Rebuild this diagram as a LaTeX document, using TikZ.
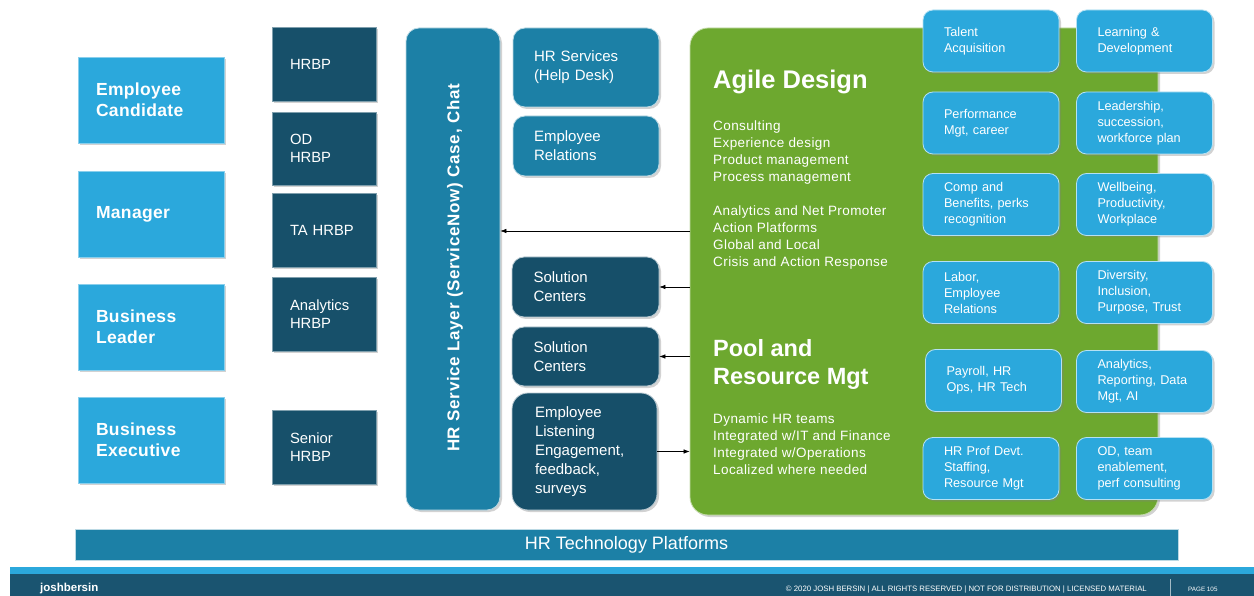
\documentclass[tikz,border=0pt]{standalone}
\usepackage{fontspec}
\setmainfont{Liberation Sans}
\usetikzlibrary{shadows,arrows.meta}
\definecolor{lblue}{HTML}{2BA8DC}
\definecolor{dteal}{HTML}{17506A}
\definecolor{mteal}{HTML}{1C80A6}
\definecolor{dkbox}{HTML}{164F69}
\definecolor{agreen}{HTML}{6DA82F}
\definecolor{footdark}{HTML}{1A5470}
\tikzset{
  shad/.style={drop shadow={opacity=0.35,shadow xshift=2pt,shadow yshift=-2pt}},
  rolebox/.style={rectangle, fill=lblue, draw=lblue!55!white, line width=0.8pt,
    minimum width=146pt, minimum height=86pt, text width=110pt, inner xsep=18pt, inner ysep=0pt,
    align=left, text=white, font=\bfseries\fontsize{17.5}{21}\selectfont\addfontfeatures{LetterSpace=2}, shad},
  hrbpbox/.style={rectangle, fill=dteal, draw=dteal!55!white, line width=0.8pt,
    minimum width=104pt, minimum height=74pt, text width=68pt, inner xsep=18pt, inner ysep=0pt,
    align=left, text=white, font=\fontsize{14.8}{18}\selectfont, shad},
  midbox/.style={rectangle, rounded corners=12pt, draw=white!70!mteal, line width=0.8pt,
    minimum width=146pt, text width=104pt, inner xsep=21pt, inner ysep=0pt,
    align=left, text=white, font=\fontsize{15}{19}\selectfont, shad},
  tilebox/.style={rectangle, rounded corners=10pt, fill=lblue, draw=white!65!lblue, line width=0.8pt,
    minimum width=136pt, minimum height=62pt, text width=94pt, inner xsep=21pt, inner ysep=0pt,
    align=left, text=white, font=\fontsize{12.7}{16}\selectfont, shad},
  gtext/.style={anchor=north west, inner sep=0pt, align=left, text=white, font=\fontsize{13.5}{17}\selectfont\addfontfeatures{LetterSpace=3}},
  ghead/.style={anchor=north west, inner sep=0pt, align=left, text=white, font=\bfseries\fontsize{23.5}{28}\selectfont},
  arr/.style={draw=black, line width=0.6pt, -{Latex[length=6pt,width=4.5pt]}},
}
\begin{document}
\begin{tikzpicture}[x=1pt,y=-1pt]
\useasboundingbox (0,0) rectangle (1254,596);
\fill[white] (0,0) rectangle (1254,596);

% role boxes
\node[rolebox] (emp) at (151,100) {Employee\\Candidate};
\node[rolebox] (mgr) at (151,214) {Manager};
\node[rolebox] (bl) at (151,327) {Business\\Leader};
\node[rolebox] (be) at (151,440) {Business\\Executive};

% HRBP boxes
\node[hrbpbox] (h1) at (324,64) {HRBP};
\node[hrbpbox, minimum height=73pt] (h2) at (324,148.5) {OD\\HRBP};
\node[hrbpbox] (h3) at (324,230) {TA HRBP};
\node[hrbpbox] (h4) at (324,314) {Analytics\\HRBP};
\node[hrbpbox] (h5) at (324,447) {Senior\\HRBP};

% service layer
\node[rectangle, rounded corners=13pt, fill=mteal, draw=white!70!mteal, line width=0.8pt,
  minimum width=94pt, minimum height=482pt, inner sep=0pt, shad] (svc) at (453,269) {};
\node[rotate=90, text=white, font=\bfseries\fontsize{17}{20}\selectfont\addfontfeatures{LetterSpace=4}, inner sep=0pt] (svctext) at (455,268) {HR Service Layer (ServiceNow) Case, Chat};

% middle column
\node[midbox, fill=mteal, minimum height=79pt] (hrs) at (586,67.5) {HR Services\\(Help Desk)};
\node[midbox, fill=mteal, minimum height=60pt] (er) at (586,146) {Employee\\Relations};
\node[midbox, fill=dkbox, draw=white!70!dkbox, minimum width=147pt, minimum height=60pt] (sc1) at (585.5,287) {Solution\\Centers};
\node[midbox, fill=dkbox, draw=white!70!dkbox, minimum width=147pt, minimum height=59pt] (sc2) at (585.5,356.5) {Solution\\Centers};
\node[midbox, fill=dkbox, draw=white!70!dkbox, minimum width=145pt, minimum height=117pt, rounded corners=16pt, inner xsep=23pt, text width=99pt] (lis) at (584.5,451.5) {Employee\\Listening\\Engagement,\\feedback,\\surveys};

% green area
\node[rectangle, rounded corners=18pt, fill=agreen, draw=white!60!agreen, line width=0.8pt,
  minimum width=468pt, minimum height=487pt, inner sep=0pt, shad] (green) at (924,271.5) {};

\node[anchor=north west, inner sep=0pt, text=white, font=\bfseries\fontsize{25.5}{28}\selectfont] (agile) at (713,70) {Agile Design};
\node[gtext] (alist) at (713,121) {Consulting\\Experience design\\Product management\\Process management\\[17pt]Analytics and Net Promoter\\Action Platforms\\Global and Local\\Crisis and Action Response};
\node[ghead] (pool) at (713,339) {Pool and\\Resource Mgt};
\node[gtext] (plist) at (713,414) {Dynamic HR teams\\Integrated w/IT and Finance\\Integrated w/Operations\\Localized where needed};

% tiles
\node[tilebox] (t11) at (991,41) {Talent\\Acquisition};
\node[tilebox] (t12) at (1144.5,41) {Learning \&\\Development};
\node[tilebox] (t21) at (991,123) {Performance\\Mgt, career};
\node[tilebox] (t22) at (1144.5,123) {Leadership,\\succession,\\workforce plan};
\node[tilebox] (t31) at (991,204.5) {Comp and\\Benefits, perks\\recognition};
\node[tilebox] (t32) at (1144.5,204.5) {Wellbeing,\\Productivity,\\Workplace};
\node[tilebox] (t41) at (991,292.5) {Labor,\\Employee\\Relations};
\node[tilebox] (t42) at (1144.5,292.5) {Diversity,\\Inclusion,\\Purpose, Trust};
\node[tilebox] (t51) at (993.5,380.5) {Payroll, HR\\Ops, HR Tech};
\node[tilebox] (t52) at (1144.5,381.5) {Analytics,\\Reporting, Data\\Mgt, AI};
\node[tilebox] (t61) at (991,468.5) {HR Prof Devt.\\Staffing,\\Resource Mgt};
\node[tilebox] (t62) at (1144.5,468.5) {OD, team\\enablement,\\perf consulting};

% arrows
\coordinate (a1) at (690,231);
\draw[arr] (a1) -- (svc.east |- a1);
\draw[arr] (green.west |- sc1.east) -- (sc1.east);
\draw[arr] (green.west |- sc2.east) -- (sc2.east);
\draw[arr] (lis.east) -- (green.west |- lis.east);

% platform bar
\node[rectangle, fill=mteal, draw=white!70!mteal, line width=0.6pt, minimum width=1103pt, minimum height=31pt, inner sep=0pt,
  text=white, font=\fontsize{18}{20}\selectfont] (plat) at (626.5,544.5) {HR Technology Platforms};

% footer
\fill[lblue] (10,567) rectangle (1254,574);
\node[rectangle, fill=footdark, minimum width=1244pt, minimum height=22pt, inner sep=0pt] (foot) at (632,585) {};
\node[anchor=west, inner sep=0pt, text=white, font=\bfseries\fontsize{11.5}{12}\selectfont] (logo) at (40,589) {joshbersin};
\node[anchor=east, inner sep=0pt, text=white, font=\fontsize{7.8}{9}\selectfont] (copy) at (1147,589.5) {© 2020 JOSH BERSIN | ALL RIGHTS RESERVED | NOT FOR DISTRIBUTION | LICENSED MATERIAL};
\coordinate (sepT) at (1170,579);
\draw[white!60!footdark, line width=0.6pt] (sepT) -- (foot.south -| sepT);
\node[anchor=west, inner sep=0pt, text=white, font=\fontsize{6.3}{8}\selectfont] (page) at (1188,589.5) {PAGE 105};
\end{tikzpicture}
\end{document}
